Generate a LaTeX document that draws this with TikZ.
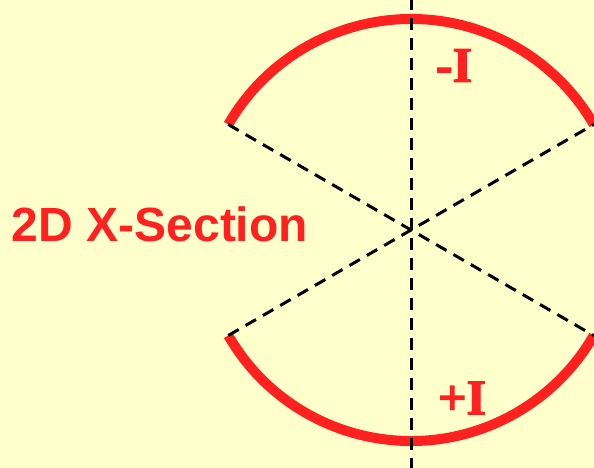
\documentclass[tikz,border=0pt]{standalone}
\usepackage{fontspec}
\usetikzlibrary{calc}
\setmainfont{Liberation Serif}
\newfontfamily\labelsans{Liberation Sans}
\newfontfamily\signfont[FakeBold=2.5]{Liberation Serif Bold}
\definecolor{bgyellow}{RGB}{255,255,204}
\definecolor{arcred}{RGB}{255,32,32}
\begin{document}
\begin{tikzpicture}[x=1pt,y=1pt,
  arcline/.style={draw=arcred,line width=10pt,line cap=butt},
  axisline/.style={draw=black,line width=3pt,dash pattern=on 12pt off 8pt},
  sign/.style={text=arcred,inner sep=0pt,font=\signfont\fontsize{50}{50}\selectfont},
  title/.style={text=arcred,inner sep=0pt,font=\labelsans\bfseries\fontsize{48}{48}\selectfont}]
\useasboundingbox (0,0) rectangle (594,468);
\fill[bgyellow] (0,0) rectangle (594,468);
\clip (0,0) rectangle (594,468);
\coordinate (c) at (411,238);
\coordinate (tl) at ($(c)+(150:211)$);
\coordinate (tr) at ($(c)+(30:211)$);
\coordinate (bl) at ($(c)+(210:211)$);
\coordinate (br) at ($(c)+(330:211)$);
\coordinate (top) at (411,470);
\coordinate (bot) at (411,-2);
\draw[arcline] (tl) arc[start angle=150,end angle=30,radius=211];
\draw[arcline] (bl) arc[start angle=210,end angle=330,radius=211];
\draw[axisline] (top) -- (bot);
\draw[axisline] (tl) -- (br);
\draw[axisline] (bl) -- (tr);
\node[sign] (minus) at (454,402.5) {-I};
\node[sign] (plus) at (462,70) {+I};
\node[title] (label) at (160,244) {2D X-Section};
\end{tikzpicture}
\end{document}
